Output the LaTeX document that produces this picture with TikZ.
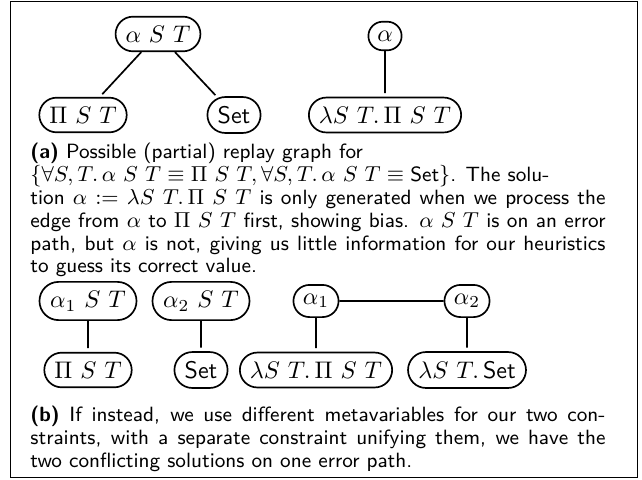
\documentclass[tikz,border=0pt]{standalone}
\usetikzlibrary{shapes.misc}
\newcommand{\Setc}{\textsf{Set}}
\begin{document}
\begin{tikzpicture}[x=0.41667pt,y=-0.41667pt,
  term/.style={draw, rounded rectangle, line width=0.7pt, inner xsep=3.3pt, inner ysep=3.8pt},
  link/.style={line width=0.7pt, shorten >=1.5pt},
  caption/.style={anchor=north west, inner sep=0pt, text width=239.6pt, align=justify,
    font=\sffamily\fontsize{8.6}{9.5}\selectfont}]
\useasboundingbox (0,0) rectangle (642,479);
\draw[line width=0.4pt] (10,1) rectangle (637,477);

% (a) one metavariable shared by both constraints
\node[term] (ast) at (158,34) {$\alpha\ S\ T$};
\node[term] (pst) at (83,115) {$\Pi\ S\ T$};
\node[term] (set) at (234,115) {\Setc};
\node[term] (alpha) at (385,36) {$\alpha$};
\node[term] (lam) at (385,115) {$\lambda S\ T.\,\Pi\ S\ T$};
\draw[link] (ast) -- (pst);
\draw[link] (ast) -- (set);
\draw[link] (alpha) -- (lam);

\node[caption] (capa) at (30,143) {\textbf{(a)} Possible (partial) replay graph for\newline
$\{\forall S, T.\,\alpha\ S\ T \equiv \Pi\ S\ T, \forall S, T.\,\alpha\ S\ T \equiv \Setc\}$. The solu-\newline
tion $\alpha := \lambda S\ T.\,\Pi\ S\ T$ is only generated when we process the\linebreak
edge from $\alpha$ to $\Pi\ S\ T$ first, showing bias. $\alpha\ S\ T$ is on an error\linebreak
path, but $\alpha$ is not, giving us little information for our heuristics\linebreak
to guess its correct value.};

% (b) separate metavariables joined by their own constraint
\node[term] (a1st) at (88,301) {$\alpha_1\ S\ T$};
\node[term] (a2st) at (201,301) {$\alpha_2\ S\ T$};
\node[term] (a1) at (316,301) {$\alpha_1$};
\node[term] (a2) at (467,301) {$\alpha_2$};
\node[term] (pst2) at (88,370) {$\Pi\ S\ T$};
\node[term] (set2) at (201,370) {\Setc};
\node[term] (lam1) at (316,370) {$\lambda S\ T.\,\Pi\ S\ T$};
\node[term] (lam2) at (467,370) {$\lambda S\ T.\,\Setc$};
\draw[link] (a1st) -- (pst2);
\draw[link] (a2st) -- (set2);
\draw[link] (a1) -- (lam1);
\draw[link] (a2) -- (lam2);
\draw[line width=0.7pt] (a1) -- (a2);

\node[caption] (capb) at (30,406) {\textbf{(b)} If instead, we use different metavariables for our two con-\linebreak
straints, with a separate constraint unifying them, we have the\linebreak
two conflicting solutions on one error path.};
\end{tikzpicture}
\end{document}
